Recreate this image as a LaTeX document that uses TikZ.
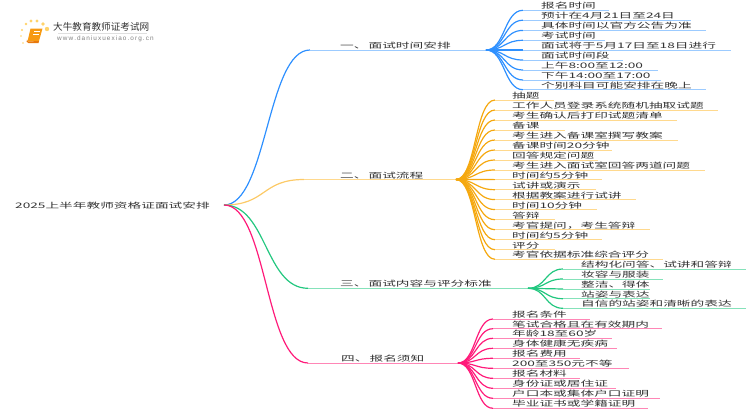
\documentclass[tikz,border=0pt]{standalone}
\usepackage{fontspec}
\newfontfamily\cjk[FakeStretch=1.8]{Noto Sans CJK SC}
\newfontfamily\logofont{Noto Sans CJK SC}
\setsansfont{Liberation Sans}
\definecolor{textgray}{HTML}{333333}
\definecolor{blueline}{HTML}{2E90FF}
\definecolor{bluelight}{HTML}{9CCBFF}
\definecolor{orangeline}{HTML}{F5A80F}
\definecolor{orangelight}{HTML}{FFD98E}
\definecolor{greenline}{HTML}{22C77F}
\definecolor{greenlight}{HTML}{85E2BA}
\definecolor{pinkline}{HTML}{FF1B7A}
\definecolor{pinklight}{HTML}{FF86B6}
\definecolor{bookfill}{HTML}{F79A12}
\definecolor{bookedge}{HTML}{E8780C}
\definecolor{dotfill}{HTML}{FFD36B}
\tikzset{
  label/.style={anchor=base west, inner sep=0, text=textgray, font=\cjk\fontsize{7.6}{9}\selectfont},
  stem/.style={line width=1.2},
  rule/.style={line width=1},
}
\begin{document}
\begin{tikzpicture}[x=1pt, y=-1pt]
  \useasboundingbox (0,0) rectangle (750,410);
  % logo
  \foreach \dx/\dy/\r in {37/21/1.7, 31/21/1.6, 26/24/1.4, 43/24/1.9, 47/29/2.2, 22/30/1.1, 21/36/0.9, 23/43/0.8}
  {
    \fill[dotfill] (\dx,\dy) circle (\r);
  }
  \fill[bookfill] (30.5,28.5) -- (42.5,28.5) -- (39,41) -- (27.5,41.5) -- cycle;
  \fill[bookedge] (27,39.5) -- (28,41.5) -- (39,41) -- (38.5,43) -- (28.5,43) .. controls (26.5,43) and (26,41) .. (27,39.5) -- cycle;
  \draw[white, line width=0.7] (34,31.5) -- (40,31.5) (33.2,34.5) -- (39.2,34.5);
  \node[anchor=west, inner sep=0, text=textgray, font=\logofont\fontsize{9.6}{10}\selectfont] (logoname) at (53,27) {大牛教育教师证考试网};
  \fill[gray!25] (58,33) rectangle (147,33.6);
  \node[anchor=west, inner sep=0, text=gray, font=\sffamily\fontsize{6.4}{7}\selectfont] (logourl) at (57,39) {w\,w\,w\,.\,d\,a\,n\,i\,u\,x\,u\,e\,x\,i\,a\,o\,.\,o\,r\,g\,.\,c\,n};

  % root
  \node[label] (root) at (15,208) {2025上半年教师资格证面试安排};
  \coordinate (start) at (224,205);

  % branch one
  \coordinate (turnA) at (310,50);
  \coordinate (hubA) at (486,50);
  \node[label] (titleA) at (340,48.5) {一、\hspace{-2pt} 面试时间安排};
  \draw[stem, blueline] (start) .. controls +(43,0) and +(-43,0) .. (turnA);
  \draw[rule, bluelight] (turnA) -- (hubA);
  \foreach \i/\ly/\lend/\ltext in
    {
        1/10.3/609/报名时间,
        2/20.2/691/预计在4月21日至24日,
        3/30.4/706/具体时间以官方公告为准,
        4/40.3/605/考试时间,
        5/50/731/面试将于5月17日至18日进行,
        6/60/623/面试时间段,
        7/70/658/上午8:00至12:00,
        8/80/661/下午14:00至17:00,
        9/89.7/706/个别科目可能安排在晚上
    }
    {
        \coordinate (a\i) at (523,\ly);
        \coordinate (ae\i) at (\lend,\ly);
        \node[label] (al\i) at (541,\ly-1.5) {\ltext};
        \draw[stem, blueline] (hubA) .. controls +(19,0) and +(-19,0) .. (a\i);
        \draw[rule, bluelight] (a\i) -- (ae\i);
    }

  % branch two
  \coordinate (turnB) at (304,179.5);
  \coordinate (hubB) at (456,179.5);
  \node[label] (titleB) at (340,178) {二、\hspace{-2pt} 面试流程};
  \draw[stem, orangelight!70!orangeline] (start) .. controls +(43,0) and +(-43,0) .. (turnB);
  \draw[rule, orangelight] (turnB) -- (hubB);
  \foreach \i/\ly/\lend/\ltext in
    {
        1/100/554/抽题,
        2/110/718/工作人员登录系统随机抽取试题,
        3/120/677/考生确认后打印试题清单,
        4/130/565/备课,
        5/140/678/考生进入备课室撰写教案,
        6/150/612/备课时间20分钟,
        7/160/598/回答规定问题,
        8/170/705/考生进入面试室回答两道问题,
        9/179.6/602/时间约5分钟,
        10/189.7/596/试讲或演示,
        11/199.6/636/根据教案进行试讲,
        12/209.6/597/时间10分钟,
        13/219.7/555/答辩,
        14/229.7/650/考官提问，考生答辩,
        15/239.7/602/时间约5分钟,
        16/249.7/555/评分,
        17/259.3/663/考官依据标准综合评分
    }
    {
        \coordinate (b\i) at (495,\ly);
        \coordinate (be\i) at (\lend,\ly);
        \node[label] (bl\i) at (512,\ly-1.5) {\ltext};
        \draw[stem, orangeline] (hubB) .. controls +(20,0) and +(-20,0) .. (b\i);
        \draw[rule, orangelight] (b\i) -- (be\i);
    }

  % branch three
  \coordinate (turnC) at (308,288.3);
  \coordinate (hubC) at (528,288.3);
  \node[label] (titleC) at (340,286.8) {三、\hspace{-2pt} 面试内容与评分标准};
  \draw[stem, greenline] (start) .. controls +(43,0) and +(-43,0) .. (turnC);
  \draw[rule, greenlight] (turnC) -- (hubC);
  \foreach \i/\ly/\lend/\ltext in
    {
        1/269/746/结构化问答、试讲和答辩,
        2/279/663/妆容与服装,
        3/289/650/整洁、得体,
        4/298.7/650/站姿与表达,
        5/308.3/746/自信的站姿和清晰的表达
    }
    {
        \coordinate (c\i) at (563,\ly);
        \coordinate (ce\i) at (\lend,\ly);
        \node[label] (cl\i) at (581,\ly-1.5) {\ltext};
        \draw[stem, greenline] (hubC) .. controls +(18,0) and +(-18,0) .. (c\i);
        \draw[rule, greenlight] (c\i) -- (ce\i);
    }

  % branch four
  \coordinate (turnD) at (308,363);
  \coordinate (hubD) at (458,363);
  \node[label] (titleD) at (341,361.5) {四、\hspace{-2pt} 报名须知};
  \draw[stem, pinkline] (start) .. controls +(43,0) and +(-43,0) .. (turnD);
  \draw[rule, pinklight] (turnD) -- (hubD);
  \foreach \i/\ly/\lend/\ltext in
    {
        1/319/590/报名条件,
        2/328.7/662/笔试合格且在有效期内,
        3/338.3/612/年龄18至60岁,
        4/348.3/617/身体健康无疾病,
        5/358.3/580/报名费用,
        6/368.3/629/200至350元不等,
        7/378.3/580/报名材料,
        8/388.3/616/身份证或居住证,
        9/398.3/660/户口本或集体户口证明,
        10/408.3/648/毕业证书或学籍证明
    }
    {
        \coordinate (d\i) at (493,\ly);
        \coordinate (de\i) at (\lend,\ly);
        \node[label] (dl\i) at (512,\ly-1.5) {\ltext};
        \draw[stem, pinkline] (hubD) .. controls +(18,0) and +(-18,0) .. (d\i);
        \draw[rule, pinklight] (d\i) -- (de\i);
    }
\end{tikzpicture}
\end{document}
